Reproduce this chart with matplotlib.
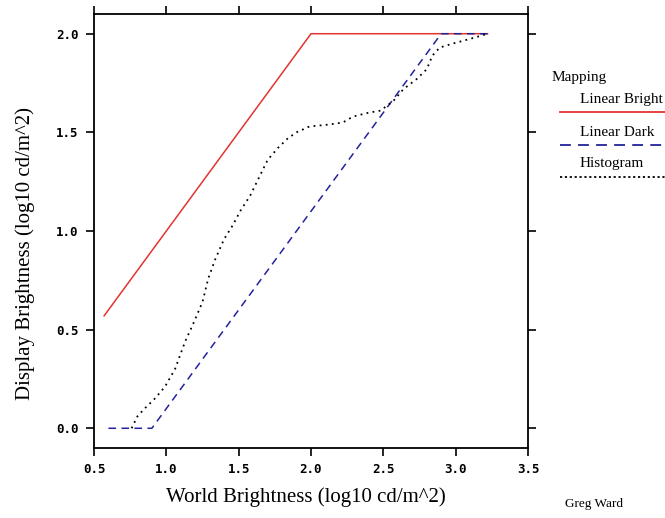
import matplotlib
matplotlib.use("Agg")
import matplotlib.pyplot as plt
from matplotlib.lines import Line2D

# tone mapping curves (log10 world vs display brightness)
bright_x = [0.57, 2.0, 3.22]
bright_y = [0.57, 2.0, 2.0]

dark_x = [0.6, 0.9, 2.9, 3.22]
dark_y = [0.0, 0.0, 2.0, 2.0]

hist_x = [0.76, 0.80, 0.85, 0.92, 0.99, 1.06, 1.13, 1.18, 1.25, 1.29, 1.34, 1.40,
          1.46, 1.51, 1.58, 1.64, 1.70, 1.77, 1.84, 1.90, 1.99, 2.13, 2.22, 2.29,
          2.40, 2.48, 2.57, 2.64, 2.73, 2.80, 2.84, 2.89, 2.98, 3.08, 3.13, 3.22]
hist_y = [0.0, 0.06, 0.10, 0.15, 0.21, 0.30, 0.44, 0.52, 0.64, 0.76, 0.86, 0.96,
          1.03, 1.10, 1.18, 1.27, 1.36, 1.42, 1.47, 1.50, 1.53, 1.54, 1.55, 1.58,
          1.60, 1.61, 1.66, 1.72, 1.77, 1.82, 1.89, 1.93, 1.95, 1.97, 1.98, 2.0]

xticks = [0.5, 1.0, 1.5, 2.0, 2.5, 3.0, 3.5]
yticks = [0.0, 0.5, 1.0, 1.5, 2.0]

legend_names = ["Linear Bright", "Linear Dark", "Histogram"]

red = "#e3342f"
blue = "#23239c"

serif = ["Liberation Serif", "DejaVu Serif"]

fig = plt.figure(figsize=(6.65, 5.18), dpi=100)
ax = fig.add_axes([94 / 665, 70 / 518, 434 / 665, 434 / 518])

ax.plot(bright_x, bright_y, color=red, lw=1.1)
ax.plot(dark_x, dark_y, color=blue, lw=1.1, dashes=(5, 3.5))
ax.plot(hist_x, hist_y, color="black", lw=1.3, dashes=(1, 2.4))

ax.set_xlim(0.5, 3.5)
ax.set_ylim(-0.1, 2.1)
ax.set_xticks(xticks)
ax.set_yticks(yticks)
ax.set_xticklabels(["%.1f" % v for v in xticks])
ax.set_yticklabels(["%.1f" % v for v in yticks])
ax.tick_params(direction="out", length=6, width=1.2, top=True, right=True,
               labelsize=9, pad=5)
for lab in ax.get_xticklabels() + ax.get_yticklabels():
    lab.set_family("DejaVu Sans Mono")
    lab.set_fontweight("bold")
for s in ax.spines.values():
    s.set_linewidth(1.3)

fig.text(306 / 665, 1 - 497 / 518, "World Brightness (log10 cd/m^2)",
         family=serif, fontsize=15, ha="center", va="center")
fig.text(25 / 665, 1 - 253 / 518, "Display Brightness (log10 cd/m^2)",
         family=serif, fontsize=15, ha="center", va="center", rotation=90)
fig.text(565 / 665, 1 - 504 / 518, "Greg Ward", family=serif, fontsize=9.5,
         ha="left", va="center")

# legend block to the right of the plot
fig.text(552 / 665, 1 - 77 / 518, "Mapping", family=serif, fontsize=11,
         ha="left", va="center")
styles = [dict(color=red, lw=1.3),
          dict(color=blue, lw=1.3, dashes=(6, 4)),
          dict(color="black", lw=1.3, dashes=(1.2, 1.5))]
text_y = [99, 133, 164]
line_y = [112, 145, 177]
for name, st, ty, ly in zip(legend_names, styles, text_y, line_y):
    fig.text(580 / 665, 1 - ty / 518, name, family=serif, fontsize=11,
             ha="left", va="center")
    fig.add_artist(Line2D([560 / 665, 1.0], [1 - ly / 518, 1 - ly / 518],
                          transform=fig.transFigure, **st))

fig.savefig("out.png", dpi=100)
